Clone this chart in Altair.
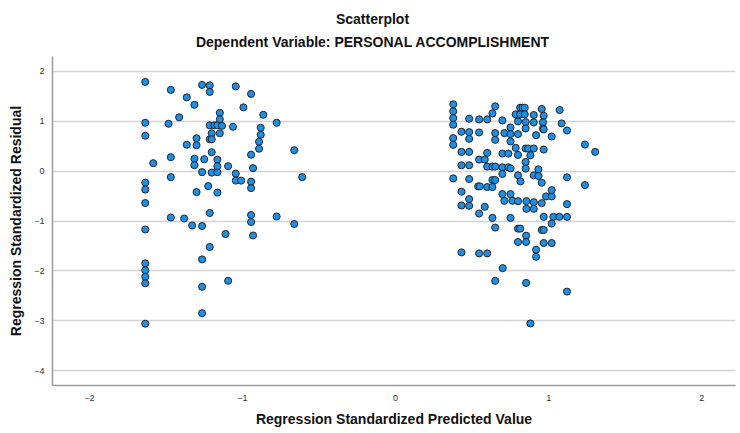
import altair as alt
import pandas as pd

left_x = [-1.631,-1.631,-1.631,-1.631,-1.631,-1.631,-1.631,-1.631,-1.631,-1.631,-1.631,-1.631,
          -1.579,-1.464,-1.464,-1.464,-1.464,-1.479,-1.41,-1.36,-1.36,-1.31,-1.31,-1.31,-1.296,-1.296,-1.296,
          -1.26,-1.26,-1.246,-1.22,-1.21,-1.21,-1.21,-1.21,-1.197,-1.197,-1.197,-1.197,-1.18,-1.16,-1.16,-1.16,
          -1.16,-1.16,-1.144,-1.144,-1.144,-1.13,-1.09,-1.058,-1.04,-1.04,-1.04,-1.005,-0.99,-0.94,-0.94,-0.94,
          -0.94,-0.94,-0.94,-0.927,-0.877,-0.877,-0.888,-0.888,-0.86,-0.773,-0.773,-0.658,-0.606,-0.658,
          -1.377,-1.325,-1.26,-1.21,-1.21,-1.26,-1.26,-1.26,-1.107,-1.09,-0.927]
left_y = [1.78,0.96,0.70,-0.24,-0.38,-0.65,-1.18,-1.86,-2.0,-2.13,-2.26,-3.07,
          0.15,1.62,0.27,-0.13,-0.94,0.94,1.07,1.47,0.52,1.32,0.24,0.11,0.65,0.51,-0.43,
          1.72,-0.03,0.23,-0.31,1.71,1.58,0.91,0.63,0.75,0.63,0.37,-0.04,0.91,-0.03,0.22,0.09,
          -0.44,0.91,1.16,1.03,0.75,0.90,0.09,0.88,1.69,-0.06,-0.20,-0.20,1.27,1.54,0.32,-0.22,
          -0.35,-0.89,-1.03,0.05,0.86,0.72,0.58,0.44,1.12,0.96,-0.92,0.41,-0.13,-1.07,
          -0.96,-1.10,-1.11,-0.85,-1.53,-1.78,-2.33,-2.86,-1.27,-2.21,-1.30]

right_x = [0.380,0.654,0.817,0.832,0.847,0.958,1.075,0.636,0.788,0.817,0.847,0.906,0.971,0.380,0.380,
           0.484,0.549,0.602,0.701,0.803,0.853,0.906,0.966,1.088,0.380,0.754,0.853,0.966,0.971,1.123,
           0.434,0.484,0.549,0.654,0.714,0.754,0.803,0.921,1.023,0.380,0.484,0.654,0.754,1.240,0.380,
           0.788,0.853,0.869,0.906,0.971,0.434,0.484,0.602,0.701,0.740,0.803,0.884,1.307,0.549,0.586,
           0.602,0.636,0.654,0.701,0.740,0.754,0.853,0.853,0.936,0.434,0.484,0.380,0.484,0.636,0.654,
           0.701,0.803,0.906,0.936,1.123,0.819,0.958,1.240,0.543,0.554,0.602,0.636,0.434,0.701,0.754,
           0.986,1.023,1.023,0.484,0.714,0.767,0.803,0.858,0.906,0.958,1.123,0.434,0.484,0.586,0.858,
           0.906,0.549,0.636,0.754,0.971,1.034,1.073,1.123,
           0.654,0.803,0.817,0.958,0.971,1.023,0.856,0.803,0.856,0.971,1.023,0.921,0.921,0.434,0.549,
           0.602,0.703,0.654,0.856,1.123,0.884]
right_y = [1.331,1.290,1.263,1.263,1.263,1.237,1.216,1.149,1.129,1.129,1.129,1.116,1.102,1.190,1.055,
           1.042,1.028,1.028,1.008,0.988,0.974,0.968,0.968,0.948,0.921,0.867,0.847,0.847,0.827,0.806,
           0.780,0.773,0.766,0.753,0.753,0.733,0.733,0.712,0.685,0.652,0.638,0.618,0.585,0.524,0.517,
           0.457,0.444,0.444,0.444,0.423,0.376,0.376,0.356,0.343,0.343,0.316,0.309,0.376,0.222,0.222,
           0.081,0.081,0.081,0.067,0.067,0.047,0.175,0.040,0.027,0.108,0.108,-0.155,-0.168,-0.188,-0.188,
           -0.067,-0.094,-0.094,-0.108,-0.134,-0.215,-0.242,-0.289,-0.316,-0.316,-0.329,-0.329,-0.423,-0.470,-0.470,
           -0.517,-0.517,-0.390,-0.571,-0.605,-0.605,-0.612,-0.612,-0.632,-0.652,-0.672,-0.699,-0.706,-0.726,-0.766,
           -0.766,-0.860,-0.948,-0.948,-0.927,-0.927,-0.927,-0.927,
           -1.142,-1.163,-1.163,-1.190,-1.190,-1.062,-1.304,-1.431,-1.431,-1.452,-1.452,-1.586,-1.727,-1.640,-1.660,
           -1.660,-1.956,-2.211,-2.252,-2.426,-3.065]

x_ticks = [-2, -1, 0, 1, 2]
y_ticks = [2, 1, 0, -1, -2, -3, -4]

df = pd.DataFrame({
    "pred": left_x + right_x,
    "resid": left_y + right_y,
})

FONT = "Liberation Sans"

chart = alt.Chart(df).mark_circle(
    size=50, color="#1f8fe3", stroke="#1a2633", strokeWidth=1, opacity=1
).encode(
    x=alt.X("pred:Q",
            scale=alt.Scale(domain=[-2.24, 2.22], nice=False, zero=False),
            axis=alt.Axis(values=x_ticks, grid=False, ticks=False, labelPadding=8,
                          title="Regression Standardized Predicted Value",
                          titlePadding=10, domainColor="#9a9a9a", domainWidth=1.5,
                          labelFont=FONT, labelFontSize=9, labelColor="#333333",
                          titleFont=FONT, titleFontSize=14, titleFontWeight="bold",
                          titleColor="#111111")),
    y=alt.Y("resid:Q",
            scale=alt.Scale(domain=[-4.3, 2.3], nice=False, zero=False),
            axis=alt.Axis(values=y_ticks, grid=True, gridColor="#d4d4d4", gridWidth=1.5,
                          ticks=False, labelPadding=8,
                          title="Regression Standardized Residual",
                          titlePadding=10, domainColor="#9a9a9a", domainWidth=1.5,
                          labelFont=FONT, labelFontSize=9, labelColor="#333333",
                          titleFont=FONT, titleFontSize=14, titleFontWeight="bold",
                          titleColor="#111111")),
).properties(
    width=683,
    height=329,
    title=alt.TitleParams(
        text="Scatterplot",
        subtitle="Dependent Variable: PERSONAL ACCOMPLISHMENT",
        font=FONT, fontSize=14, fontWeight="bold", color="#111111",
        subtitleFont=FONT, subtitleFontSize=14, subtitleFontWeight="bold", subtitleColor="#111111",
        subtitlePadding=9, offset=6, anchor="middle", dx=-21,
    ),
    autosize=alt.AutoSizeParams(type="none"),
    padding={"left": 52, "top": 56, "right": 5, "bottom": 48},
    background="white",
).configure_view(
    stroke=None
)

chart.save("out.html", embed_options={"renderer": "svg", "actions": False})
